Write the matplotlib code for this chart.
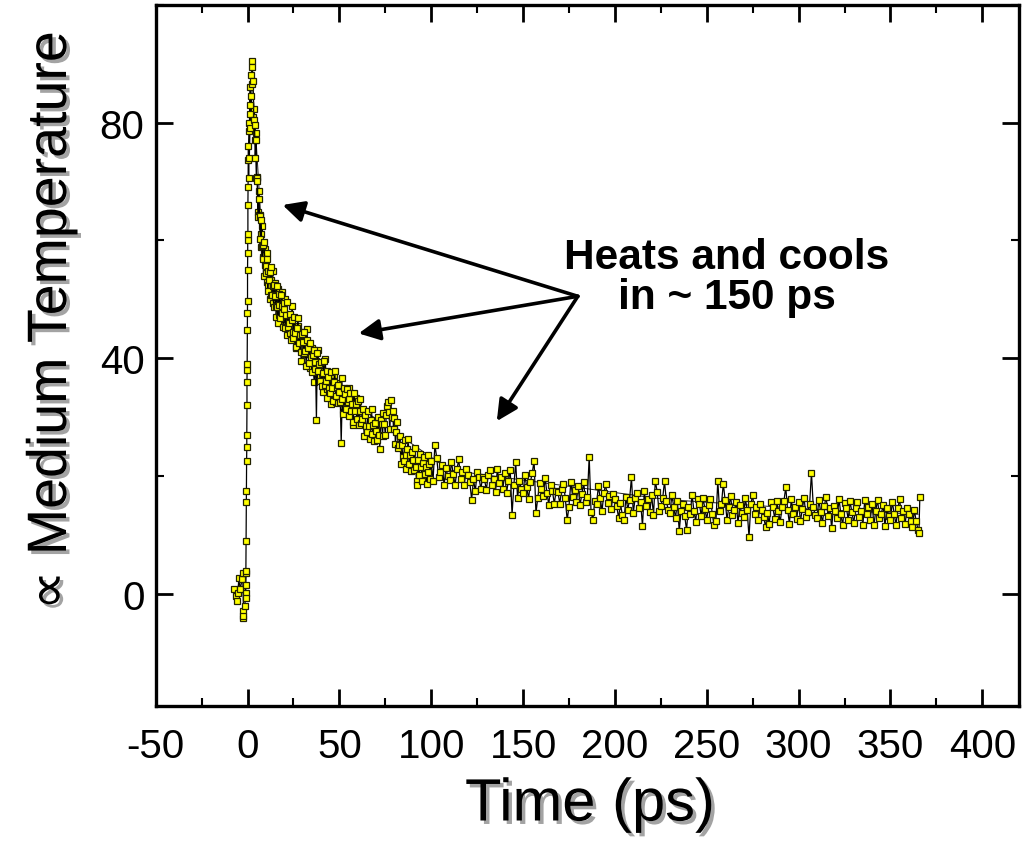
import numpy as np
import matplotlib
matplotlib.use("Agg")
import matplotlib.pyplot as plt
import matplotlib.patheffects as pe
from matplotlib.ticker import MultipleLocator

plt.rcParams['font.family'] = ['Liberation Sans', 'DejaVu Sans']
plt.rcParams['axes.unicode_minus'] = False

# --- data (time in ps, signal in arb. units) ---
pre_t = [-7.1, -6.5, -5.8, -5.3, -4.7, -4.0, -2.9, -2.6, -2.2, -2.2, -2.2, -1.4, -1.1, -1.1, -1.1, -1.1]
pre_y = [0.8, -0.4, -1.3, 0.1, 2.6, 0.8, 2.5, 3.5, -3.0, -4.1, -3.7, -2.1, 3.5, 1.5, 0.1, -0.8]

rise_t = [-0.9, -0.8, -0.7, -0.6, -0.5, -0.4, -0.4, -0.3, -0.3, -0.2, -0.2, -0.1, -0.1, 0.0, 0.0,
          0.1, 0.1, 0.2, 0.2, 0.3, 0.4, 0.5, 0.6, 0.8, 1.0, 1.2, 1.0, 1.5, 1.3, 1.8, 1.6, 2.0, 2.2, 2.4, 2.6]
rise_y = [3.8, 9.0, 15.5, 17.5, 22.6, 25.0, 27.0, 32.0, 36.0, 38.0, 39.0, 44.8, 47.7, 49.7, 54.9,
          57.8, 60.0, 61.0, 66.0, 69.0, 73.6, 76.0, 70.5, 80.0, 78.5, 83.0, 74.0, 86.0, 81.5, 84.5, 79.0, 88.0, 86.5, 90.4, 89.5]

decay_t = [3.0, 3.4, 3.8, 4.2, 4.6, 5.0, 5.4, 5.8, 6.2, 6.6, 7.0, 7.4, 7.8, 8.2, 8.6, 9.0, 9.4, 9.8,
           10.2, 10.6, 11.0, 11.4, 11.8, 12.2, 12.6, 13.0, 13.4, 13.8, 14.2, 14.6, 15.0, 15.4, 15.8,
           16.2, 16.6, 17.0, 17.4, 17.8, 18.2, 18.6, 19.0, 19.4, 19.8]
decay_y = [87.0, 80.5, 79.5, 74.0, 77.0, 70.5, 70.0, 64.0, 67.0, 64.2, 60.2, 63.5, 59.0, 56.8, 59.2,
           59.8, 55.8, 54.4, 55.7, 56.9, 51.4, 54.8, 53.2, 54.7, 50.7, 55.5, 50.8, 52.3, 48.7, 52.4,
           50.6, 48.8, 52.3, 48.7, 46.0, 50.9, 49.0, 46.8, 50.8, 47.6, 48.9, 45.3, 48.3]

mid_t = [20.0, 20.5, 21.0, 21.5, 22.0, 22.5, 23.0, 23.5, 24.0, 24.5,
         25.0, 25.5, 26.0, 26.5, 27.0, 27.5, 28.0, 28.5, 29.0, 29.5,
         30.0, 30.5, 31.0, 31.5, 32.0, 32.5, 33.0, 33.5, 34.0, 34.5,
         35.0, 35.5, 36.0, 36.5, 37.0, 37.5, 38.0, 38.5, 39.0, 39.5,
         40.0, 40.5, 41.0, 41.5, 42.0, 42.5, 43.0, 43.5, 44.0, 44.5,
         45.0, 45.5, 46.0, 46.5, 47.0, 47.5, 48.0, 48.5, 49.0, 49.5,
         50.0, 50.5, 51.0, 51.5, 52.0, 52.5, 53.0, 53.5, 54.0, 54.5,
         55.0, 55.5, 56.0, 56.5, 57.0, 57.5, 58.0, 58.5, 59.0, 59.5,
         60.0, 60.5, 61.0, 61.5, 62.0, 62.5, 63.0, 63.5, 64.0, 64.5,
         65.0, 65.5, 66.0, 66.5, 67.0, 67.5, 68.0, 68.5, 69.0, 69.5,
         70.0, 70.5, 71.0, 71.5, 72.0, 72.5, 73.0, 73.5, 74.0, 74.5,
         75.0, 75.5, 76.0, 76.5, 77.0, 77.5, 78.0, 78.5, 79.0, 79.5,
         80.0, 80.5, 81.0, 81.5, 82.0, 82.5, 83.0, 83.5, 84.0, 84.5,
         85.0, 85.5, 86.0, 86.5, 87.0, 87.5, 88.0, 88.5, 89.0, 89.5,
         90.0, 90.5, 91.0, 91.5, 92.0, 92.5, 93.0, 93.5, 94.0, 94.5,
         95.0, 95.5, 96.0, 96.5, 97.0, 97.5, 98.0, 98.5, 99.0, 99.5]
mid_y = [49.3, 45.2, 47.4, 49.5, 45.3, 46.0, 47.5, 43.0, 46.4, 44.5,
         43.5, 47.0, 44.3, 41.9, 45.1, 46.8, 42.5, 43.9, 41.1, 44.1,
         42.7, 40.9, 44.5, 41.2, 38.6, 43.0, 41.8, 39.1, 42.5, 40.2,
         37.7, 40.5, 41.4, 38.2, 39.3, 29.5, 40.9, 37.8, 39.0, 36.2,
         39.3, 35.2, 37.5, 39.6, 35.5, 36.2, 37.8, 33.3, 36.8, 34.9,
         34.0, 37.6, 35.0, 32.7, 36.0, 37.8, 33.6, 35.1, 32.4, 35.5,
         34.2, 32.5, 25.6, 33.0, 30.5, 35.0, 33.9, 31.3, 34.8, 32.6,
         30.2, 33.1, 34.1, 31.0, 32.2, 29.2, 34.0, 31.0, 32.3, 29.6,
         32.8, 28.7, 31.0, 33.1, 29.0, 29.7, 31.3, 26.8, 30.3, 28.4,
         27.5, 31.1, 28.5, 26.2, 29.5, 31.3, 27.1, 28.6, 25.9, 29.0,
         27.7, 26.1, 30.0, 26.9, 24.6, 29.5, 28.9, 26.7, 30.7, 28.9,
         27.0, 30.3, 31.8, 32.6, 30.8, 27.9, 32.9, 30.0, 31.0, 27.9,
         29.8, 25.4, 27.4, 29.2, 24.8, 25.3, 26.7, 22.0, 25.3, 23.3,
         22.5, 26.1, 23.5, 21.2, 24.5, 26.3, 22.1, 23.6, 20.9, 24.0,
         22.7, 21.0, 24.8, 21.6, 19.2, 18.5, 22.7, 20.1, 23.7, 21.5,
         19.2, 22.2, 23.3, 20.3, 21.6, 18.7, 23.6, 20.7, 22.1, 19.5]

tail_t = [100, 101, 102, 103, 104, 105, 106, 107, 108, 109,
          110, 111, 112, 113, 114, 115, 116, 117, 118, 119,
          120, 121, 122, 123, 124, 125, 126, 127, 128, 129,
          130, 131, 132, 133, 134, 135, 136, 137, 138, 139,
          140, 141, 142, 143, 144, 145, 146, 147, 148, 149,
          150, 151, 152, 153, 154, 155, 156, 157, 158, 159,
          160, 161, 162, 163, 164, 165, 166, 167, 168, 169,
          170, 171, 172, 173, 174, 175, 176, 177, 178, 179,
          180, 181, 182, 183, 184, 185, 186, 187, 188, 189,
          190, 191, 192, 193, 194, 195, 196, 197, 198, 199,
          200, 201, 202, 203, 204, 205, 206, 207, 208, 209,
          210, 211, 212, 213, 214, 215, 216, 217, 218, 219,
          220, 221, 222, 223, 224, 225, 226, 227, 228, 229,
          230, 231, 232, 233, 234, 235, 236, 237, 238, 239,
          240, 241, 242, 243, 244, 245, 246, 247, 248, 249,
          250, 251, 252, 253, 254, 255, 256, 257, 258, 259,
          260, 261, 262, 263, 264, 265, 266, 267, 268, 269,
          270, 271, 272, 273, 274, 275, 276, 277, 278, 279,
          280, 281, 282, 283, 284, 285, 286, 287, 288, 289,
          290, 291, 292, 293, 294, 295, 296, 297, 298, 299,
          300, 301, 302, 303, 304, 305, 306, 307, 308, 309,
          310, 311, 312, 313, 314, 315, 316, 317, 318, 319,
          320, 321, 322, 323, 324, 325, 326, 327, 328, 329,
          330, 331, 332, 333, 334, 335, 336, 337, 338, 339,
          340, 341, 342, 343, 344, 345, 346, 347, 348, 349,
          350, 351, 352, 353, 354, 355, 356, 357, 358, 359,
          360, 361, 362, 363, 364, 365, 365.5, 366]
tail_y = [22.5, 19.2, 25.3, 23.1, 19.8, 20.6, 21.9, 18.4, 21.3, 20.0,
          19.3, 22.4, 20.3, 18.4, 21.2, 22.8, 19.4, 20.7, 18.5, 21.1,
          20.1, 18.9, 16.0, 19.4, 17.4, 20.7, 19.8, 17.8, 19.8, 19.5,
          17.6, 20.1, 21.0, 18.5, 19.5, 17.3, 21.2, 18.8, 19.9, 17.8,
          20.5, 17.1, 19.2, 21.0, 13.4, 18.5, 22.3, 16.2, 19.1, 17.8,
          17.1, 20.1, 18.1, 16.1, 19.0, 20.5, 22.6, 13.7, 16.2, 18.8,
          17.8, 16.6, 19.7, 17.1, 15.1, 18.4, 17.4, 15.3, 17.5, 17.2,
          15.3, 17.8, 18.7, 16.2, 12.5, 14.8, 19.0, 16.5, 17.7, 15.5,
          18.3, 15.0, 17.0, 18.9, 15.6, 16.4, 23.3, 13.9, 12.5, 15.8,
          15.2, 18.3, 16.2, 14.1, 17.1, 18.7, 15.4, 16.6, 14.4, 17.0,
          16.1, 14.9, 12.8, 15.4, 13.4, 12.6, 16.4, 14.3, 16.0, 19.8,
          13.7, 16.2, 17.1, 14.6, 15.6, 11.5, 17.4, 14.9, 16.1, 13.9,
          16.7, 13.4, 19.2, 17.3, 14.1, 14.9, 16.2, 19.1, 15.7, 14.3,
          13.7, 16.8, 14.8, 12.8, 15.8, 10.6, 14.0, 15.3, 13.2, 10.8,
          14.8, 13.6, 16.8, 14.1, 12.2, 16.1, 15.2, 13.2, 16.2, 14.4,
          12.6, 15.1, 16.1, 13.6, 11.6, 12.3, 19.2, 14.0, 15.2, 18.7,
          15.9, 12.6, 14.7, 16.6, 13.4, 14.2, 15.5, 12.0, 15.0, 13.7,
          13.1, 16.2, 14.2, 9.6, 15.2, 16.8, 13.5, 14.7, 12.6, 15.2,
          14.3, 13.1, 11.3, 13.7, 11.8, 15.6, 14.7, 12.7, 15.8, 14.0,
          12.2, 14.7, 15.7, 18.1, 14.3, 11.9, 16.1, 13.6, 14.8, 12.7,
          15.6, 12.3, 14.4, 16.3, 13.1, 13.9, 15.3, 20.5, 14.7, 13.4,
          12.8, 15.9, 13.9, 12.0, 14.9, 16.5, 13.2, 14.5, 11.1, 14.9,
          14.1, 12.9, 16.1, 13.5, 11.6, 15.4, 14.6, 12.6, 15.7, 13.9,
          12.0, 14.5, 15.5, 13.0, 14.1, 11.7, 15.9, 13.5, 14.7, 12.6,
          15.3, 11.7, 14.1, 16.0, 12.8, 13.6, 15.0, 11.5, 14.5, 13.2,
          12.5, 15.6, 13.6, 11.7, 14.5, 16.1, 12.8, 14.0, 11.9, 14.5,
          13.6, 12.4, 11.3, 14.2, 12.3, 10.9, 10.4, 16.5]

# second, interleaved scan over the early decay
scan2_t = [3.2, 3.6, 4.0, 4.4, 4.8, 5.2, 5.6, 6.0, 6.4, 6.8, 7.2, 7.6, 8.0, 8.4, 8.8, 9.2, 9.6, 10.0,
           10.4, 10.8, 11.2, 11.6, 12.0, 12.4, 12.8, 13.2, 13.6, 14.0, 14.4, 14.8, 15.2, 15.6, 16.0,
           16.4, 16.8, 17.2, 17.6, 18.0, 18.4, 18.8, 19.2, 19.6,
           20.25, 21.25, 22.25, 23.25, 24.25, 25.25, 26.25, 27.25, 28.25, 29.25,
           30.25, 31.25, 32.25, 33.25, 34.25, 35.25, 36.25, 37.25, 38.25, 39.25,
           40.25, 41.25, 42.25, 43.25, 44.25, 45.25, 46.25, 47.25, 48.25, 49.25,
           50.25, 51.25, 52.25, 53.25, 54.25, 55.25, 56.25, 57.25, 58.25, 59.25]
scan2_y = [81.0, 82.3, 77.1, 78.3, 70.6, 70.8, 64.8, 68.4, 64.3, 64.3, 58.8, 61.0, 62.4, 57.2,
           54.0, 57.8, 58.6, 54.7, 53.0, 57.8, 52.5, 53.9, 55.1, 50.0, 53.2, 51.1, 54.8, 49.3,
           52.2, 50.4, 52.8, 47.0, 49.0, 51.0, 51.8, 47.3, 49.0, 45.9, 49.3, 51.3, 47.0, 45.7,
           50.0, 43.9, 47.3, 44.2, 48.8, 44.4, 41.8, 45.4, 43.7, 39.6,
           44.5, 40.7, 45.0, 40.7, 38.3, 41.7, 36.0, 39.5, 41.3, 36.9,
           37.8, 34.3, 39.8, 34.7, 37.0, 32.3, 35.2, 37.1, 32.5, 35.8,
           33.1, 36.6, 30.9, 33.7, 30.8, 35.0, 31.8, 28.6, 32.9, 33.2]

# coarse trace running through the cloud (thin line)
coarse_t = [2.5, 8, 20, 34, 110, 228, 300, 365]
coarse_y = [88, 60, 47, 37.5, 21, 16, 14.5, 13.5]

note = "Heats and cools\nin ~ 150 ps"
note_xy = (261, 53.8)
arrow_tail = (179.8, 50.5)
arrow_tips = [(19.1, 66.0), (60.5, 44.2), (135.7, 29.3)]

t = np.array(pre_t + rise_t + decay_t + mid_t + tail_t, dtype=float)
y = np.array(pre_y + rise_y + decay_y + mid_y + tail_y, dtype=float)

fig = plt.figure(figsize=(10.31, 8.54), dpi=100)
ax = fig.add_axes([0.1510, 0.1725, 0.8374, 0.8208])

mk = dict(color='black', lw=0.9, marker='s', ms=5.0, mfc='#ffff00', mec='#222200', mew=0.9)
ax.plot(coarse_t, coarse_y, color='#222222', lw=0.7, zorder=2)
ax.plot(scan2_t, scan2_y, zorder=3, **mk)
ax.plot(t, y, zorder=3, **mk)

ax.set_xlim(-50, 420)
ax.set_ylim(-19, 100)
ax.set_xticks(np.arange(-50, 401, 50))
ax.set_yticks([0, 40, 80])
ax.xaxis.set_minor_locator(MultipleLocator(25))
ax.yaxis.set_minor_locator(MultipleLocator(20))
ax.tick_params(which='both', direction='in', top=True, right=True, labelsize=29)
ax.tick_params(which='major', length=12, width=2)
ax.tick_params(which='minor', length=6, width=1.5)
ax.tick_params(axis='x', pad=15)
ax.tick_params(axis='y', pad=8)
for s in ax.spines.values():
    s.set_linewidth(2.4)

shadow = [pe.withSimplePatchShadow(offset=(2.5, -2.5), shadow_rgbFace='#999999', alpha=0.9)]
fig.text(52 / 1031, 1 - 322 / 854, "\u221d Medium Temperature", rotation=90,
         ha='center', va='center', fontsize=40, path_effects=shadow)
fig.text(590 / 1031, 1 - 806 / 854, "Time (ps)", ha='center', va='center',
         fontsize=43, path_effects=shadow)

ax.text(note_xy[0], note_xy[1], note, ha='center', va='center', fontsize=30.5,
        fontweight='bold', linespacing=1.0)
for tip in arrow_tips:
    ax.annotate('', xy=tip, xytext=arrow_tail,
                arrowprops=dict(arrowstyle='-|>', color='black', lw=2.6,
                                mutation_scale=32, shrinkA=0, shrinkB=0))

fig.savefig("out.png", dpi=100)
